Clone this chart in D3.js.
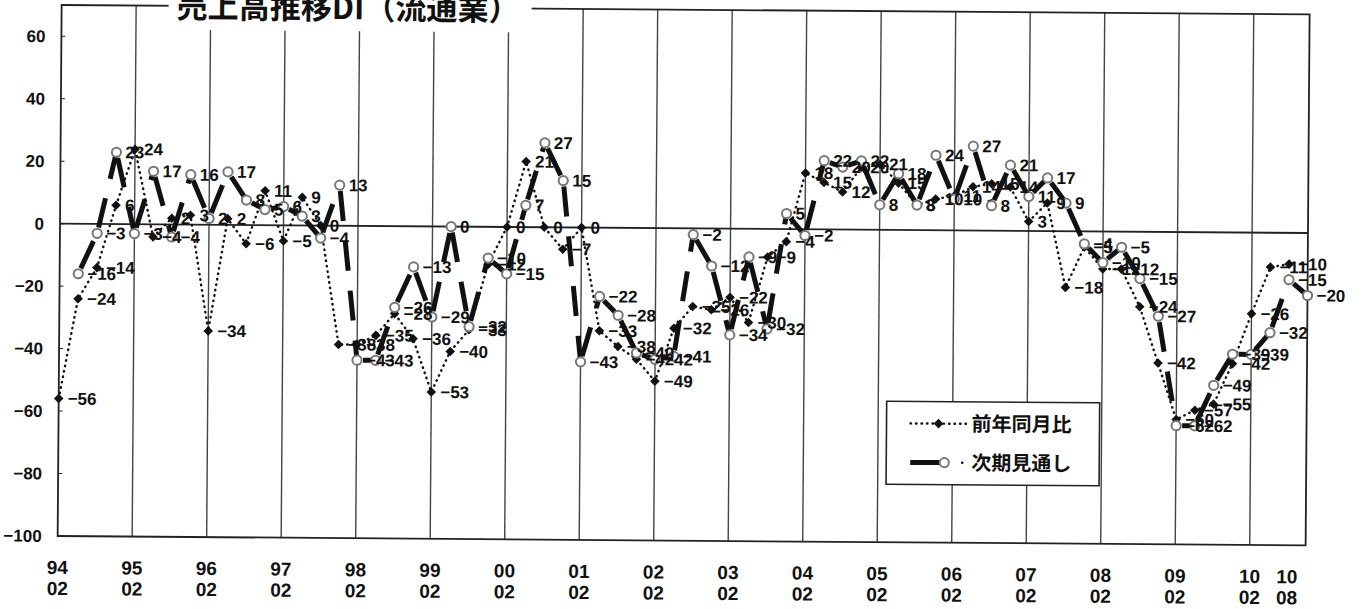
<!DOCTYPE html>
<meta charset="utf-8">
<style>
    body { margin: 0; background: #fff; }
    svg { display: block; }
    .num { font-family: "Liberation Sans Narrow", "Liberation Sans", Arial, sans-serif; font-weight: bold; fill: #111; }
    .jp { font-family: "Noto Sans CJK JP", sans-serif; font-weight: bold; fill: #111; }
</style>
<svg width="1367" height="609"></svg>
<script src="https://d3js.org/d3.v7.min.js"></script>
<script>

    // quarters 1994/02 .. 2010/11
    var periods = [
        "94/02","94/05","94/08","94/11","95/02","95/05","95/08","95/11",
        "96/02","96/05","96/08","96/11","97/02","97/05","97/08","97/11",
        "98/02","98/05","98/08","98/11","99/02","99/05","99/08","99/11",
        "00/02","00/05","00/08","00/11","01/02","01/05","01/08","01/11",
        "02/02","02/05","02/08","02/11","03/02","03/05","03/08","03/11",
        "04/02","04/05","04/08","04/11","05/02","05/05","05/08","05/11",
        "06/02","06/05","06/08","06/11","07/02","07/05","07/08","07/11",
        "08/02","08/05","08/08","08/11","09/02","09/05","09/08","09/11",
        "10/02","10/05","10/08","10/11"
    ];

    // 前年同月比
    var yoy = [
        -56, -24, -14, 6, 24, -4, 2, 3, -34, 2, -6, 11, -5, 9, 0, -38,
        -38, -35, -28, -36, -53, -40, -33, -12, 0, 21, 0, -7, 0, -33, -38, -42,
        -49, -32, -25, -26, -22, -30, -9, -4, 18, 15, 12, 20, 21, 15, 8, 10,
        11, 14, 15, 14, 3, 9, -18, -5, -12, -12, -24, -42, -60, -57, -55, -42,
        -26, -11, -10
    ];

    // 次期見通し
    var outlook = [
        null, -16, -3, 23, -3, 17, -4, 16, 2, 17, 8, 5, 6, 3, -4, 13,
        -43, -43, -26, -13, -29, 0, -32, -10, -15, 7, 27, 15, -43, -22, -28, -40,
        -42, -41, -2, -12, -34, -9, -32, 5, -2, 22, 20, 22, 8, 18, 8, 24,
        10, 27, 8, 21, 11, 17, 9, -4, -10, -5, -15, -27, -62, -62, -49, -39,
        -39, -32, -15, -20
    ];

    var yTicks = [-100, -80, -60, -40, -20, 0, 20, 40, 60];
    var xTicks = ["94/02","95/02","96/02","97/02","98/02","99/02","00/02","01/02",
        "02/02","03/02","04/02","05/02","06/02","07/02","08/02","09/02","10/02","10/08"];

    var svg = d3.select("svg"),
        plotL = 60, plotR = 1308, plotT = 5, plotB = 536;

    var x = d3.scalePoint().domain(periods).range([plotL, plotR]);
    var y = d3.scaleLinear().domain([-100, 70]).range([plotB, plotT]);

    function fmt(v) { return v < 0 ? "\u2212" + (-v) : String(v); }

    // the scan is a little tilted
    var g = svg.append("g")
        .attr("transform", "rotate(0.43," + plotL + "," + y(0) + ")");

    // year grid lines
    g.selectAll(".grid")
        .data(xTicks.filter(function (d) { return d.slice(3) === "02" && d !== "94/02"; }))
        .enter().append("line")
        .attr("x1", function (d) { return x(d); })
        .attr("x2", function (d) { return x(d); })
        .attr("y1", plotT).attr("y2", plotB)
        .attr("stroke", "#444").attr("stroke-width", 1.4);

    // frame
    g.append("rect")
        .attr("x", plotL).attr("y", plotT)
        .attr("width", plotR - plotL).attr("height", plotB - plotT)
        .attr("fill", "none").attr("stroke", "#222").attr("stroke-width", 1.8);

    // zero line
    g.append("line")
        .attr("x1", plotL).attr("x2", plotR)
        .attr("y1", y(0)).attr("y2", y(0))
        .attr("stroke", "#222").attr("stroke-width", 1.8);

    // y axis
    g.selectAll(".ytick")
        .data(yTicks)
        .enter().append("text")
        .attr("class", "num")
        .attr("x", 44).attr("y", function (d) { return y(d); })
        .attr("dy", "0.35em")
        .attr("text-anchor", "end")
        .style("font-size", "17px")
        .text(fmt);

    g.selectAll(".ytickmark")
        .data(yTicks)
        .enter().append("line")
        .attr("x1", plotL).attr("x2", plotL + 4)
        .attr("y1", function (d) { return y(d); })
        .attr("y2", function (d) { return y(d); })
        .attr("stroke", "#222");

    // x axis labels, two lines
    var xl = g.selectAll(".xtick")
        .data(xTicks)
        .enter().append("text")
        .attr("class", "num")
        .attr("text-anchor", "middle")
        .style("font-size", "19px");
    xl.append("tspan")
        .attr("x", function (d) { return x(d); })
        .attr("y", 574)
        .text(function (d) { return d.slice(0, 2); });
    xl.append("tspan")
        .attr("x", function (d) { return x(d); })
        .attr("y", 595)
        .text(function (d) { return d.slice(3); });

    // 前年同月比 : dotted line
    var yoyPts = yoy.map(function (v, i) { return {p: periods[i], v: v}; });
    var line = d3.line()
        .x(function (d) { return x(d.p); })
        .y(function (d) { return y(d.v); });

    g.append("path")
        .attr("d", line(yoyPts))
        .attr("fill", "none")
        .attr("stroke", "#111")
        .attr("stroke-width", 2.4)
        .attr("stroke-linecap", "round")
        .attr("stroke-dasharray", "0.5,5");

    // 次期見通し : thick dashes, pattern restarts on each segment
    var outPts = outlook.map(function (v, i) { return {p: periods[i], v: v}; })
        .filter(function (d) { return d.v !== null; });
    var segs = d3.pairs(outPts);

    g.selectAll(".seg")
        .data(segs)
        .enter().append("line")
        .attr("x1", function (d) { return x(d[0].p); })
        .attr("y1", function (d) { return y(d[0].v); })
        .attr("x2", function (d) { return x(d[1].p); })
        .attr("y2", function (d) { return y(d[1].v); })
        .attr("stroke", "#111")
        .attr("stroke-width", 5)
        .attr("stroke-dasharray", "30,20")
        .attr("stroke-dashoffset", 44);

    // markers
    var diamond = d3.symbol().type(d3.symbolSquare).size(46);
    g.selectAll(".dia")
        .data(yoyPts)
        .enter().append("path")
        .attr("d", diamond)
        .attr("transform", function (d) {
            return "translate(" + x(d.p) + "," + y(d.v) + ") rotate(45)";
        })
        .attr("fill", "#111");

    g.selectAll(".circ")
        .data(outPts)
        .enter().append("circle")
        .attr("cx", function (d) { return x(d.p); })
        .attr("cy", function (d) { return y(d.v); })
        .attr("r", 4.6)
        .attr("fill", "#fff")
        .attr("stroke", "#777")
        .attr("stroke-width", 2);

    // value labels
    g.selectAll(".lab1")
        .data(yoyPts)
        .enter().append("text")
        .attr("class", "num")
        .attr("x", function (d) { return x(d.p) + 9; })
        .attr("y", function (d) { return y(d.v); })
        .attr("dy", "0.35em")
        .style("font-size", "17px")
        .text(function (d) { return fmt(d.v); });

    g.selectAll(".lab2")
        .data(outPts)
        .enter().append("text")
        .attr("class", "num")
        .attr("x", function (d) { return x(d.p) + 9; })
        .attr("y", function (d) { return y(d.v); })
        .attr("dy", "0.35em")
        .style("font-size", "17px")
        .text(function (d) { return fmt(d.v); });

    // title over the top border
    g.append("rect")
        .attr("x", 167).attr("y", -10)
        .attr("width", 363).attr("height", 39)
        .attr("fill", "#fff");
    g.append("text")
        .attr("class", "jp")
        .attr("x", 175).attr("y", 17)
        .attr("textLength", 343)
        .attr("lengthAdjust", "spacingAndGlyphs")
        .style("font-size", "32px")
        .text("売上高推移DI（流通業）");

    // legend
    var lg = g.append("g");
    lg.append("rect")
        .attr("x", 888).attr("y", 395)
        .attr("width", 213).attr("height", 83)
        .attr("fill", "#fff")
        .attr("stroke", "#222").attr("stroke-width", 1.6);

    lg.append("line")
        .attr("x1", 912).attr("x2", 968)
        .attr("y1", 417).attr("y2", 417)
        .attr("stroke", "#111").attr("stroke-width", 2.4)
        .attr("stroke-linecap", "round").attr("stroke-dasharray", "0.5,5");
    lg.append("path")
        .attr("d", diamond)
        .attr("transform", "translate(940,417) rotate(45)")
        .attr("fill", "#111");
    lg.append("text")
        .attr("class", "jp")
        .attr("x", 973).attr("y", 417).attr("dy", "0.36em")
        .style("font-size", "20px")
        .text("前年同月比");

    lg.append("line")
        .attr("x1", 912).attr("x2", 942)
        .attr("y1", 456).attr("y2", 456)
        .attr("stroke", "#111").attr("stroke-width", 5);
    lg.append("circle")
        .attr("cx", 946).attr("cy", 456).attr("r", 4.6)
        .attr("fill", "#fff").attr("stroke", "#777").attr("stroke-width", 2);
    lg.append("circle")
        .attr("cx", 964).attr("cy", 456).attr("r", 1.3)
        .attr("fill", "#111");
    lg.append("text")
        .attr("class", "jp")
        .attr("x", 973).attr("y", 456).attr("dy", "0.36em")
        .style("font-size", "20px")
        .text("次期見通し");

</script>
